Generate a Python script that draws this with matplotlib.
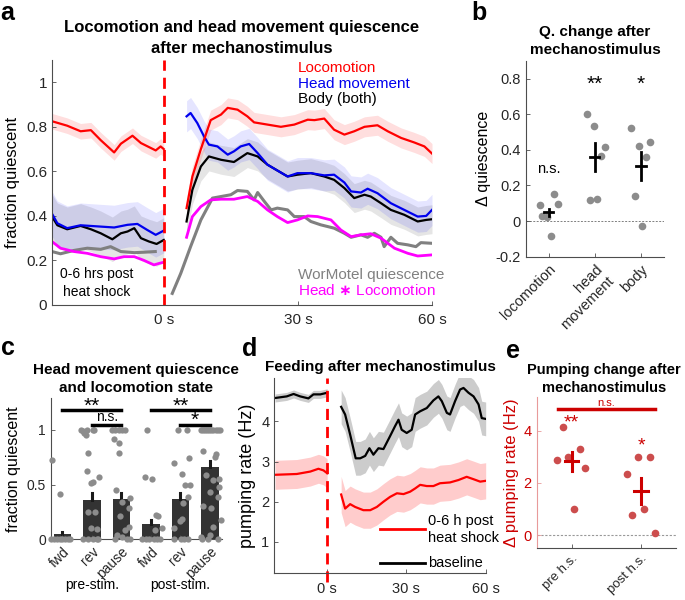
import numpy as np
import matplotlib
matplotlib.use('Agg')
import matplotlib.pyplot as plt

plt.rcParams['font.family'] = ['Liberation Sans', 'DejaVu Sans']

# ---------------- Panel a data ----------------
loco_pre_t = [-25, -21.6, -18.6, -16.3, -14.1, -11.1, -9.6, -7, -5.1, -1.8, -0.7, 0]
loco_pre = [0.825, 0.805, 0.78, 0.785, 0.74, 0.685, 0.724, 0.76, 0.727, 0.694, 0.712, 0.70]
loco_post_t = [5.1, 6.4, 8.3, 10.5, 12.8, 14.3, 16.5, 18.7, 20.2, 23.2, 26.2, 29.2, 32.2, 33.7, 35.9,
               38.1, 40.4, 42.6, 44.9, 47.8, 50.1, 53.1, 56, 58.3, 60]
loco_post = [0.435, 0.577, 0.70, 0.83, 0.855, 0.885, 0.877, 0.847, 0.82, 0.81, 0.80, 0.81, 0.832, 0.83,
             0.837, 0.787, 0.765, 0.78, 0.80, 0.807, 0.78, 0.75, 0.73, 0.712, 0.68]
loco_sem = [0.035, 0.045]

head_pre_t = [-25, -23.8, -21.6, -18.6, -14.1, -11.1, -8.1, -5.9, -3.7, -1.8, 0]
head_pre = [0.41, 0.367, 0.345, 0.358, 0.352, 0.348, 0.36, 0.364, 0.337, 0.315, 0.334]
head_post_t = [5.1, 6.0, 7.5, 9.0, 10.1, 12.0, 14.3, 15.7, 17.2, 19.1, 21.0, 23.2, 25.4, 27.7, 29.9,
               32.9, 35.9, 38.1, 40.4, 41.9, 44.1, 45.6, 47.8, 50.8, 53.8, 56.8, 58.7, 60]
head_post = [0.847, 0.862, 0.817, 0.757, 0.72, 0.712, 0.675, 0.69, 0.712, 0.723, 0.682, 0.63, 0.604,
             0.577, 0.592, 0.592, 0.582, 0.585, 0.55, 0.51, 0.505, 0.522, 0.502, 0.457, 0.427, 0.397,
             0.40, 0.427]
head_sem = [0.1, 0.07]

body_pre_t = [-25, -23.8, -21.6, -18.6, -16.3, -14.1, -11.5, -9.6, -8.1, -6.6, -5.1, -3.3, -1.6, 0]
body_pre = [0.397, 0.358, 0.34, 0.355, 0.34, 0.322, 0.295, 0.322, 0.33, 0.345, 0.30, 0.285, 0.274, 0.292]
body_post_t = [5.1, 6.4, 8.3, 10.1, 12.8, 15.7, 18.7, 21.0, 23.2, 25.4, 27.7, 29.9, 32.9, 35.9, 38.1,
               40.4, 42.6, 44.9, 46.3, 48.6, 50.8, 53.8, 56.8, 58.7, 60]
body_post = [0.375, 0.517, 0.622, 0.667, 0.652, 0.642, 0.682, 0.667, 0.63, 0.604, 0.577, 0.585, 0.592,
             0.577, 0.562, 0.525, 0.48, 0.495, 0.487, 0.457, 0.427, 0.405, 0.375, 0.382, 0.385]
body_sem = [0.1, 0.065]

hxl_pre_t = [-25, -23.1, -20.1, -17.1, -14.1, -11.1, -8.9, -6.6, -4.4, -2.2, -1.0, 0]
hxl_pre = [0.285, 0.255, 0.24, 0.232, 0.217, 0.207, 0.217, 0.217, 0.20, 0.18, 0.187, 0.192]
hxl_post_t = [5.1, 6.4, 8.3, 10.5, 12.8, 15.7, 18.7, 21.0, 23.2, 25.4, 27.7, 29.9, 32.2, 34.4, 37.4,
              39.6, 41.9, 44.1, 46.3, 48.6, 51.6, 54.6, 56.8, 60]
hxl_post = [0.304, 0.397, 0.442, 0.472, 0.475, 0.475, 0.487, 0.465, 0.427, 0.397, 0.37, 0.382, 0.40,
            0.397, 0.382, 0.337, 0.307, 0.315, 0.32, 0.30, 0.255, 0.232, 0.22, 0.225]

wm_pre_t = [-25, -23.1, -20.1, -17.1, -14.1, -11.9, -9.6, -6.6, -4.4, -1.9]
wm_pre = [0.24, 0.23, 0.245, 0.255, 0.25, 0.262, 0.24, 0.235, 0.237, 0.24]
wm_post_t = [1.9, 3.8, 6.0, 8.3, 10.9, 12.8, 15.0, 16.5, 18.7, 20.2, 21.0, 22.5, 24.0, 25.4, 27.7, 29.2,
             31.4, 32.9, 35.1, 38.1, 40.4, 41.9, 44.1, 45.6, 47.1, 48.6, 49.3, 50.8, 52.3, 54.6, 56.4,
             57.5, 60]
wm_post = [0.052, 0.142, 0.262, 0.382, 0.48, 0.487, 0.495, 0.514, 0.51, 0.472, 0.505, 0.465, 0.427,
           0.435, 0.427, 0.397, 0.397, 0.375, 0.36, 0.345, 0.322, 0.304, 0.315, 0.304, 0.322, 0.304,
           0.262, 0.304, 0.277, 0.27, 0.262, 0.28, 0.277]

a_xticks = [0, 30, 60]
a_xticklabels = ['0 s', '30 s', '60 s']
a_yticks = [0, 0.2, 0.4, 0.6, 0.8, 1.0]
a_yticklabels = ['0', '0.2', '0.4', '0.6', '0.8', '1']

# ---------------- Panel b data ----------------
b_categories = ['locomotion', 'head\nmovement', 'body']
b_loc_vals = [0.09, 0.028, 0.024, 0.151, 0.095, -0.082]
b_head_vals = [0.60, 0.533, 0.413, 0.366, 0.118, 0.125]
b_body_vals = [0.523, 0.422, 0.441, 0.359, 0.14, -0.026]
b_jitter = [[-0.20, -0.14, -0.03, 0.12, 0.19, 0.04],
            [-0.18, -0.02, 0.21, 0.14, -0.11, 0.05],
            [-0.21, -0.05, 0.19, 0.12, -0.12, 0.03]]
b_means = [0.05, 0.36, 0.31]
b_sem = [0.02, 0.08, 0.08]
b_sig = ['n.s.', '**', '*']

# ---------------- Panel c data ----------------
c_labels = ['fwd', 'rev', 'pause', 'fwd', 'rev', 'pause']
c_groups = ['pre-stim.', 'post-stim.']
c_means = [0.046, 0.357, 0.366, 0.14, 0.372, 0.662]
c_sem = [0.024, 0.063, 0.061, 0.037, 0.055, 0.058]
c_pts = [
    [0.726, 0.415, 0, 0, 0, 0, 0, 0, 0, 0],
    [1.0, 0.99, 0.97, 0.95, 1.0, 1.0, 1.0, 0.787, 0.625, 0.512, 0.527, 0.573, 0.25, 0.25, 0.10, 0.09,
     0, 0, 0, 0, 0],
    [1, 1, 1, 1, 1, 0.915, 0.878, 0.787, 0.45, 0.345, 0.29, 0.375, 0.21, 0.116, 0.085, 0.04, 0.02,
     0, 0, 0],
    [1.0, 0.573, 0.552, 0.22, 0.213, 0.085, 0.10, 0, 0, 0, 0, 0, 0],
    [1.0, 1.0, 0.695, 0.74, 0.60, 0.497, 0.497, 0.39, 0.335, 0.19, 0.17, 0.10, 0, 0, 0, 0],
    [1, 1, 1, 1, 1, 1, 1, 1, 1, 1, 0.808, 0.777, 0.756, 0.588, 0.543, 0.549, 0.48, 0.436, 0.39, 0.305,
     0.283, 0.177, 0.116, 0.024, 0.04, 0, 0, 0],
]
c_jit = [
    [-0.37, -0.09, -0.4, -0.3, -0.2, -0.1, 0.0, 0.1, 0.2, 0.27],
    [-0.37, -0.3, -0.26, -0.21, -0.16, 0.02, 0.08, -0.12, -0.16, -0.04, 0.04, 0.23, -0.13, 0.11, -0.04,
     0.18, -0.31, -0.12, 0.04, 0.16, 0.21],
    [-0.32, -0.21, -0.1, 0.02, 0.13, -0.26, -0.1, -0.1, -0.17, 0.02, 0.27, 0.29, -0.04, 0.24, 0.13,
     -0.15, 0.02, -0.21, 0.18, 0.29],
    [-0.13, -0.21, 0.04, 0.17, 0.24, 0.15, 0.39, -0.3, -0.18, -0.07, 0.09, 0.21, 0.32],
    [-0.09, 0.22, -0.23, 0.28, 0.04, 0.17, 0.32, 0.24, 0.08, 0.06, -0.03, -0.22, -0.23, 0.02, 0.13, 0.24],
    [-0.3, -0.23, -0.16, -0.09, -0.02, 0.05, 0.12, 0.19, 0.26, 0.33, -0.23, 0.19, 0.16, -0.12, 0.1, 0.32,
     0.32, -0.01, 0.27, -0.23, 0.04, 0.36, 0.1, -0.29, -0.01, -0.27, -0.07, 0.27],
]
c_brackets = [(1, 3, 1.18, '**'), (2, 3, 1.05, 'n.s.'), (4, 6, 1.18, '**'), (5, 6, 1.05, '*')]

# ---------------- Panel d data ----------------
base_pre_t = [-19.7, -15.3, -12.7, -10.2, -7.1, -5.2, -2.6, 0]
base_pre = [4.58, 4.62, 4.68, 4.62, 4.57, 4.67, 4.67, 4.71]
base_post_t = [5.3, 6.8, 8.7, 10.8, 12.5, 14.4, 16.0, 17.5, 19.4, 21.3, 23.8, 25.7, 27.0, 28.2, 30.1,
               32.0, 33.3, 35.2, 37.7, 40.2, 42.1, 43.4, 45.3, 46.5, 48.4, 50.3, 51.6, 53.5, 55.4,
               57.3, 58.5, 60]
base_post = [4.36, 4.17, 3.67, 3.08, 3.08, 3.14, 3.33, 3.17, 3.33, 3.31, 3.63, 3.88, 4.04, 3.79, 3.71,
             3.79, 4.17, 4.25, 4.33, 4.52, 4.62, 4.5, 4.21, 4.17, 4.5, 4.79, 4.83, 4.71, 4.62, 4.42,
             4.08, 4.06]
base_sem = [0.1, 0.42]
hs_pre_t = [-19.7, -11.5, -6.4, -3.3, -1.4, 0]
hs_pre = [2.67, 2.69, 2.75, 2.82, 2.78, 2.71]
hs_post_t = [5.3, 6.8, 8.7, 10.6, 13.7, 16.3, 18.8, 21.3, 23.8, 26.4, 28.9, 31.4, 33.3, 35.2, 37.7,
             40.2, 42.7, 46.5, 49.7, 52.8, 55.4, 57.9, 60]
hs_post = [2.18, 1.83, 1.94, 1.87, 1.79, 1.79, 1.87, 2.0, 2.12, 2.21, 2.19, 2.25, 2.33, 2.42, 2.39,
           2.39, 2.46, 2.48, 2.54, 2.62, 2.56, 2.5, 2.52]
hs_sem = [0.36, 0.45]

# ---------------- Panel e data ----------------
e_categories = ['pre h.s.', 'post h.s.']
e_pre_vals = [2.86, 4.14, 3.0, 3.29, 2.59, 0.99]
e_post_vals = [2.36, 2.99, 2.99, 0.79, 0.99, 0.08]
e_jitter = [[-0.21, -0.12, -0.05, 0.12, 0.19, 0.03],
            [-0.21, -0.05, 0.12, -0.13, 0.04, 0.2]]
e_means = [2.83, 1.69]
e_sem = [0.37, 0.5]
e_sig = ['**', '*']

# =========================================================
W, H = 685, 600
fig = plt.figure(figsize=(6.85, 6.0), dpi=100)


def px_axes(l, t, r, b):
    return fig.add_axes([l / W, 1 - b / H, (r - l) / W, (b - t) / H])


def ftext(x, y, s, **kw):
    return fig.text(x / W, 1 - y / H, s, **kw)


SP = '#4d4d4d'


def style(ax, lc=SP, tc='#262626', fs=10):
    for s in ['top', 'right']:
        ax.spines[s].set_visible(False)
    for s in ['left', 'bottom']:
        ax.spines[s].set_color(lc)
        ax.spines[s].set_linewidth(0.8)
    ax.tick_params(direction='in', length=3, width=0.6, color=lc, labelcolor=tc, labelsize=fs)


def band(ax, t, v, s, color, alpha):
    t = np.asarray(t); v = np.asarray(v)
    ax.fill_between(t, v - s, v + s, color=color, alpha=alpha, lw=0)


# ---------------- Panel a ----------------
ax = px_axes(52, 60, 432, 305)
style(ax, fs=11)
ax.set_xlim(-25, 60)
ax.set_ylim(0, 1.1)

band(ax, body_pre_t, body_pre, body_sem[0], 'k', 0.1)
band(ax, body_post_t, body_post, body_sem[1], 'k', 0.1)
band(ax, head_pre_t, head_pre, head_sem[0], 'blue', 0.1)
band(ax, head_post_t, head_post, head_sem[1], 'blue', 0.1)
band(ax, loco_pre_t, loco_pre, loco_sem[0], 'red', 0.13)
band(ax, loco_post_t, loco_post, loco_sem[1], 'red', 0.13)

ax.plot(wm_pre_t, wm_pre, color='#808080', lw=2.2)
ax.plot(wm_post_t, wm_post, color='#808080', lw=2.2)
ax.plot(hxl_pre_t, hxl_pre, color='#ff00ff', lw=2)
ax.plot(hxl_post_t, hxl_post, color='#ff00ff', lw=2)
ax.plot(body_pre_t, body_pre, color='k', lw=1.6)
ax.plot(body_post_t, body_post, color='k', lw=1.6)
ax.plot(head_pre_t, head_pre, color='#0000ee', lw=1.6)
ax.plot(head_post_t, head_post, color='#0000ee', lw=1.6)
ax.plot(loco_pre_t, loco_pre, color='#ff0000', lw=1.6)
ax.plot(loco_post_t, loco_post, color='#ff0000', lw=1.6)
ax.plot([0, 0], [0, 1.1], color='#ff0000', lw=2, dashes=(4, 2.5))

ax.set_xticks(a_xticks)
ax.set_xticklabels(a_xticklabels)
ax.set_yticks(a_yticks)
ax.set_yticklabels(a_yticklabels)
ax.tick_params(axis='x', pad=6)
ax.set_ylabel('fraction quiescent', fontsize=12, labelpad=4)
ax.text(0.6466, 0.966, 'Locomotion', color='#ff0000', fontsize=11, transform=ax.transAxes, va='center')
ax.text(0.6466, 0.902, 'Head movement', color='#0000ee', fontsize=11, transform=ax.transAxes, va='center')
ax.text(0.6466, 0.84, 'Body (both)', color='k', fontsize=11, transform=ax.transAxes, va='center')
ax.text(0.6466, 0.122, 'WorMotel quiescence', color='#808080', fontsize=11, transform=ax.transAxes, va='center')
ax.text(0.6466, 0.058, 'Head $\\mathbf{\\ast}$ Locomotion', color='#ff00ff', fontsize=11,
        transform=ax.transAxes, va='center')
ax.text(0.118, 0.09, '0-6 hrs post\nheat shock', color='k', fontsize=10, transform=ax.transAxes,
        ha='center', va='center', linespacing=1.3)

ftext(242, 38, 'Locomotion and head movement quiescence\nafter mechanostimulus', fontsize=12,
      fontweight='bold', ha='center', va='center', linespacing=1.45)

# ---------------- Panel b ----------------
ax = px_axes(525.7, 60.7, 664, 256.7)
style(ax, fs=10.5)
ax.set_xlim(0.5, 3.5)
ax.set_ylim(-0.2, 0.9)
ax.axhline(0, color='#808080', lw=0.7, ls=(0, (2, 1.5)), zorder=0)
for i, vals in enumerate([b_loc_vals, b_head_vals, b_body_vals]):
    x0 = i + 1
    ax.plot(x0 + np.asarray(b_jitter[i]), vals, 'o', color='#8c8c8c', ms=5.5, mec='none', zorder=2)
    ax.plot([x0 - 0.1, x0 + 0.1], [b_means[i]] * 2, color='k', lw=2, zorder=3)
    ax.plot([x0, x0], [b_means[i] - b_sem[i], b_means[i] + b_sem[i]], color='k', lw=2, zorder=3)
ax.text(1, 0.29, b_sig[0], fontsize=10.5, ha='center', va='center')
ax.text(2, 0.77, b_sig[1], fontsize=15, ha='center', va='center')
ax.text(3, 0.77, b_sig[2], fontsize=15, ha='center', va='center')
ax.set_yticks([-0.2, 0, 0.2, 0.4, 0.6, 0.8])
ax.set_yticklabels(['-0.2', '0', '0.2', '0.4', '0.6', '0.8'])
ax.set_xticks([1, 2, 3])
ax.set_xticklabels(b_categories, rotation=45, ha='right', rotation_mode='anchor', fontsize=10.5)
ax.tick_params(axis='x', pad=4)
ax.set_ylabel('\u0394 quiescence', fontsize=11.5, labelpad=3)
ftext(595, 41, 'Q. change after\nmechanostimulus', fontsize=11, fontweight='bold', ha='center',
      va='center', linespacing=1.45)

# ---------------- Panel c ----------------
ax = px_axes(50.7, 398.3, 221.7, 539.3)
style(ax, fs=10)
ax.set_xlim(0.6, 6.4)
ax.set_ylim(0, 1.29)
xpos = np.arange(1, 7)
ax.bar(xpos, c_means, width=0.6, color='#333333', zorder=1)
for i in range(6):
    ax.plot([xpos[i], xpos[i]], [c_means[i], c_means[i] + c_sem[i]], color='#1a1a1a', lw=2.2, zorder=1)
    ax.plot(xpos[i] + np.asarray(c_jit[i]), c_pts[i], 'o', color='#8c8c8c', ms=4.5, mec='none',
            zorder=3, clip_on=False)
for (x1, x2, y, s) in c_brackets:
    ax.plot([x1, x2], [y, y], color='k', lw=2.5, clip_on=False, zorder=4)
    if s == 'n.s.':
        ax.text((x1 + x2) / 2, y + 0.005, s, fontsize=10, ha='center', va='bottom')
    else:
        ax.text((x1 + x2) / 2, y - 0.05, s, fontsize=15, ha='center', va='bottom')
ax.set_yticks([0, 0.5, 1])
ax.set_yticklabels(['0', '0.5', '1'])
ax.set_xticks(xpos)
ax.set_xticklabels(c_labels, rotation=45, ha='right', rotation_mode='anchor')
ax.tick_params(axis='x', pad=4)
ax.set_ylabel('fraction quiescent', fontsize=11.5, labelpad=4)
ax.text(2, -0.42, c_groups[0], fontsize=10, ha='center', va='center')
ax.text(5, -0.42, c_groups[1], fontsize=10, ha='center', va='center')
ftext(136, 379, 'Head movement quiescence\nand locomotion state', fontsize=11, fontweight='bold',
      ha='center', va='center', linespacing=1.45)

# ---------------- Panel d ----------------
ax = px_axes(274.3, 378.3, 485.7, 573.3)
style(ax, fs=10.5)
ax.set_xlim(-20, 60)
ax.set_ylim(0.22, 5.07)
band(ax, base_pre_t, base_pre, base_sem[0], 'k', 0.2)
band(ax, base_post_t, base_post, base_sem[1], 'k', 0.2)
band(ax, hs_pre_t, hs_pre, hs_sem[0], 'red', 0.2)
band(ax, hs_post_t, hs_post, hs_sem[1], 'red', 0.2)
ax.plot(base_pre_t, base_pre, color='k', lw=1.6)
ax.plot(base_post_t, base_post, color='k', lw=1.6)
ax.plot(hs_pre_t, hs_pre, color='#ff0000', lw=1.6)
ax.plot(hs_post_t, hs_post, color='#ff0000', lw=1.6)
ax.plot([0, 0], [0.0, 5.07], color='#ff0000', lw=2, dashes=(4, 2.5), clip_on=False)
ax.plot([0.5, 0.713], [0.226, 0.226], color='#ff0000', lw=2, transform=ax.transAxes)
ax.plot([0.5, 0.713], [0.054, 0.054], color='k', lw=2, transform=ax.transAxes)
ax.text(0.727, 0.226, '0-6 h post\nheat shock', fontsize=10.5, transform=ax.transAxes, va='center',
        linespacing=1.3)
ax.text(0.727, 0.054, 'baseline', fontsize=10.5, transform=ax.transAxes, va='center')
ax.set_xticks([0, 30, 60])
ax.set_xticklabels(['0 s', '30 s', '60 s'])
ax.set_yticks([1, 2, 3, 4])
ax.tick_params(axis='x', pad=6)
ax.set_ylabel('pumping rate (Hz)', fontsize=13, labelpad=4)
ftext(380, 367, 'Feeding after mechanostimulus', fontsize=11, fontweight='bold', ha='center',
      va='center')

# ---------------- Panel e ----------------
RED = '#cc0000'
ax = px_axes(536.7, 396.7, 676, 548.3)
style(ax, fs=10.5)
ax.spines['left'].set_color('#e89a9a')
ax.tick_params(axis='y', colors='#e89a9a', labelcolor=RED)
ax.set_xlim(0.5, 2.5)
ax.set_ylim(-0.5, 5.3)
ax.axhline(0, color='#999999', lw=0.8, ls=(0, (2, 1.5)), zorder=0)
for i, vals in enumerate([e_pre_vals, e_post_vals]):
    x0 = i + 1
    ax.plot(x0 + np.asarray(e_jitter[i]), vals, 'o', color='#cc4d4d', ms=5.5, mec='none', zorder=2)
    ax.plot([x0 - 0.1, x0 + 0.1], [e_means[i]] * 2, color=RED, lw=2.2, zorder=3)
    ax.plot([x0, x0], [e_means[i] - e_sem[i], e_means[i] + e_sem[i]], color=RED, lw=2.2, zorder=3)
ax.plot([0.8, 2.2], [4.82, 4.82], color=RED, lw=2.5)
ax.text(1.5, 4.87, 'n.s.', color=RED, fontsize=8, ha='center', va='bottom')
ax.text(1.0, 4.3, e_sig[0], color=RED, fontsize=14, ha='center', va='center')
ax.text(2.0, 3.4, e_sig[1], color=RED, fontsize=14, ha='center', va='center')
ax.set_yticks([0, 2, 4])
ax.set_xticks([1, 2])
ax.set_xticklabels(e_categories, rotation=45, ha='right', rotation_mode='anchor', fontsize=9.5)
ax.tick_params(axis='x', pad=3)
ax.set_ylabel('\u0394 pumping rate (Hz)', fontsize=12, color=RED, labelpad=3)
ftext(604, 379, 'Pumping change after\nmechanostimulus', fontsize=10.5, fontweight='bold', ha='center',
      va='center', linespacing=1.45)

# ---------------- Panel letters ----------------
ftext(0, 20, 'a', fontsize=18, fontweight='bold', va='baseline')
ftext(471, 20, 'b', fontsize=18, fontweight='bold', va='baseline')
ftext(1, 355, 'c', fontsize=18, fontweight='bold', va='baseline')
ftext(242, 356, 'd', fontsize=18, fontweight='bold', va='baseline')
ftext(506, 358, 'e', fontsize=18, fontweight='bold', va='baseline')

fig.savefig('out.png', dpi=100)
